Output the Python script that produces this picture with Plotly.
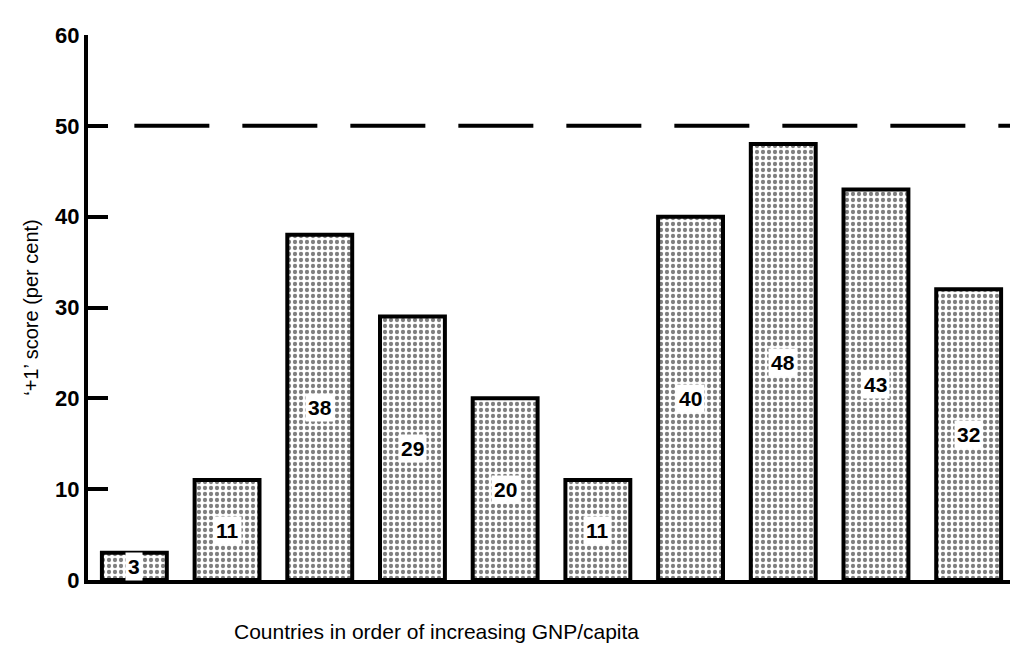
import plotly.graph_objects as go

countries = list(range(10))
scores = [3, 11, 38, 29, 20, 11, 40, 48, 43, 32]
score_labels = ["3", "11", "38", "29", "20", "11", "40", "48", "43", "32"]
y_ticks = [0, 10, 20, 30, 40, 50, 60]
reference_level = 50

FONT = "Liberation Sans, Arial, sans-serif"

fig = go.Figure()
fig.add_trace(go.Bar(
    x=countries,
    y=scores,
    width=0.7,
    marker=dict(
        color="white",
        line=dict(color="black", width=4),
        pattern=dict(shape=".", fgcolor="black", bgcolor="white",
                     size=6, solidity=0.4, fillmode="overlay"),
    ),
    hoverinfo="skip",
))

for xi, v, lab in zip(countries, scores, score_labels):
    fig.add_annotation(
        x=xi, y=v / 2, text=lab, showarrow=False,
        font=dict(family=FONT, size=21, color="black", weight="bold"),
        bgcolor="white", borderpad=2,
    )

fig.add_shape(
    type="line", xref="x", yref="y",
    x0=0, x1=9.5, y0=reference_level, y1=reference_level,
    line=dict(color="black", width=4, dash="75px,33px"),
)

fig.add_annotation(
    xref="paper", yref="paper", x=0.376, y=-0.095,
    xanchor="center", yanchor="middle",
    text="Countries in order of increasing GNP/capita",
    showarrow=False, font=dict(family=FONT, size=21, color="black"),
)

fig.update_layout(
    width=1018, height=660,
    margin=dict(l=80, r=11, t=27, b=88),
    paper_bgcolor="white", plot_bgcolor="white",
    showlegend=False,
    font=dict(family=FONT, color="black"),
    xaxis=dict(
        range=[-0.5, 9.5], showticklabels=False, ticks="",
        showgrid=False, zeroline=False,
        showline=True, linecolor="black", linewidth=4,
    ),
    yaxis=dict(
        range=[0, 60], tickvals=y_ticks, ticks="inside", ticklen=20,
        tickwidth=4, tickcolor="black",
        tickfont=dict(family=FONT, size=22, weight="bold"),
        showgrid=False, zeroline=False,
        showline=True, linecolor="black", linewidth=4,
        title=dict(text="\u2018+1\u2019 score (per cent)",
                   font=dict(family=FONT, size=20), standoff=12),
    ),
)

fig.write_html("out.html")
